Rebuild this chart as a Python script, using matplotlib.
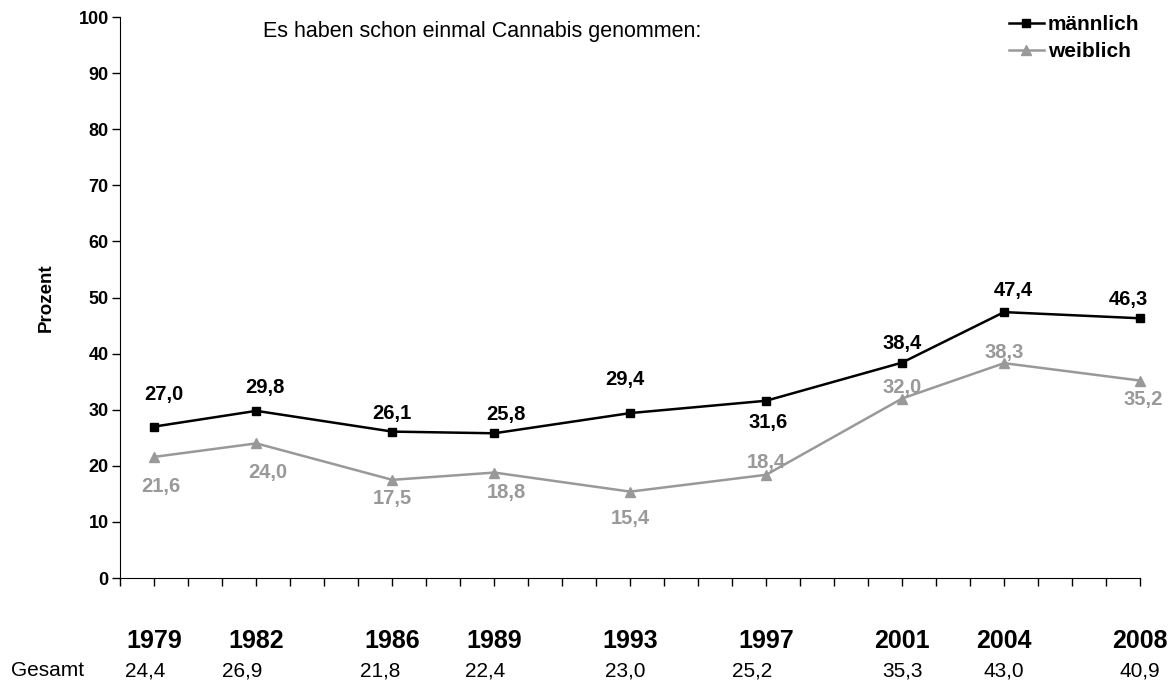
import numpy as np
import matplotlib.pyplot as plt
import matplotlib.transforms as mtransforms

plt.rcParams['font.family'] = ['Liberation Sans', 'DejaVu Sans']

# ---- survey data (Prozent, "schon einmal Cannabis genommen") ----
years = [1979, 1982, 1986, 1989, 1993, 1997, 2001, 2004, 2008]
maennlich = [27.0, 29.8, 26.1, 25.8, 29.4, 31.6, 38.4, 47.4, 46.3]
weiblich = [21.6, 24.0, 17.5, 18.8, 15.4, 18.4, 32.0, 38.3, 35.2]
gesamt = [24.4, 26.9, 21.8, 22.4, 23.0, 25.2, 35.3, 43.0, 40.9]

# label offsets in pixels (dx, dy) for each point label
off_m = [(9, 32), (9, 23), (0, 18), (12, 19), (-5, 34), (2, -22), (0, 19), (9, 22), (-12, 19)]
off_w = [(6, -30), (11, -29), (0, -19), (12, -20), (0, -27), (0, 12), (0, 11), (0, 11), (3, -19)]
off_g = [-9, -14, -12, -9, -5, -14, 0, 0, 0]

GRAY = '#999999'


def fmt(v):
    return f"{v:.1f}".replace('.', ',')


fig = plt.figure(figsize=(11.75, 6.86), dpi=100)
ax = fig.add_axes([0.1025, 0.1574, 0.8677, 0.8178])

ax.plot(years, maennlich, color='black', lw=1.8, marker='s', ms=6,
        label='männlich', clip_on=False, zorder=3)
ax.plot(years, weiblich, color=GRAY, lw=1.8, marker='^', ms=7,
        label='weiblich', clip_on=False, zorder=2)

for x, v, (dx, dy) in zip(years, maennlich, off_m):
    ax.annotate(fmt(v), (x, v), xytext=(dx, dy), textcoords='offset pixels',
                ha='center', va='center', fontsize=14.5, fontweight='bold', color='black')
for x, v, (dx, dy) in zip(years, weiblich, off_w):
    ax.annotate(fmt(v), (x, v), xytext=(dx, dy), textcoords='offset pixels',
                ha='center', va='center', fontsize=14.5, fontweight='bold', color=GRAY)

# axes styling
ax.set_xlim(1978, 2008)
ax.set_ylim(0, 100)
ax.set_yticks(np.arange(0, 101, 10))
ax.set_xticks(np.arange(1978, 2009))
ax.set_xticklabels([str(y) if y in years else '' for y in range(1978, 2009)])
ax.tick_params(axis='x', direction='out', length=6, width=1, pad=31,
               labelsize=18)
ax.tick_params(axis='y', direction='out', length=6, width=1, pad=2.5,
               labelsize=13)
for lab in ax.get_xticklabels() + ax.get_yticklabels():
    lab.set_fontweight('bold')
ax.spines['top'].set_visible(False)
ax.spines['right'].set_visible(False)
ax.set_ylabel('Prozent', fontsize=13.5, fontweight='bold', labelpad=17)

ax.text(0.140, 0.974, 'Es haben schon einmal Cannabis genommen:',
        transform=ax.transAxes, fontsize=15.5, ha='left', va='center')

# Gesamt row beneath the year labels
trans = mtransforms.blended_transform_factory(ax.transData, fig.transFigure)
row_y = 1 - 671 / 686
fig.text(11 / 1175, row_y, 'Gesamt', fontsize=15, ha='left', va='center')
for x, v, dx in zip(years, gesamt, off_g):
    ax.annotate(fmt(v), (x, row_y), xycoords=trans, xytext=(dx, 0),
                textcoords='offset pixels', fontsize=15,
                ha='center', va='center', annotation_clip=False)

leg = ax.legend(loc='upper right', bbox_to_anchor=(1.018, 1.037), frameon=False,
                handlelength=1.7, handletextpad=0.2, labelspacing=0.4,
                prop={'weight': 'bold', 'size': 15})

fig.savefig('out.png', dpi=100)
